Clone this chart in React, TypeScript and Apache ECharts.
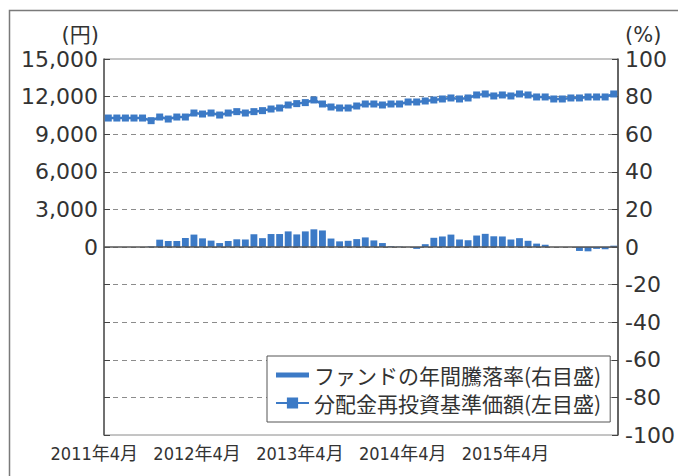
import React, { useEffect, useRef } from "react";
import * as echarts from "echarts";

const categories: string[] = [
  "2011年4月", "2011年5月", "2011年6月", "2011年7月", "2011年8月", "2011年9月",
  "2011年10月", "2011年11月", "2011年12月", "2012年1月", "2012年2月", "2012年3月",
  "2012年4月", "2012年5月", "2012年6月", "2012年7月", "2012年8月", "2012年9月",
  "2012年10月", "2012年11月", "2012年12月", "2013年1月", "2013年2月", "2013年3月",
  "2013年4月", "2013年5月", "2013年6月", "2013年7月", "2013年8月", "2013年9月",
  "2013年10月", "2013年11月", "2013年12月", "2014年1月", "2014年2月", "2014年3月",
  "2014年4月", "2014年5月", "2014年6月", "2014年7月", "2014年8月", "2014年9月",
  "2014年10月", "2014年11月", "2014年12月", "2015年1月", "2015年2月", "2015年3月",
  "2015年4月", "2015年5月", "2015年6月", "2015年7月", "2015年8月", "2015年9月",
  "2015年10月", "2015年11月", "2015年12月", "2016年1月", "2016年2月", "2016年3月",
];

// 分配金再投資基準価額 (円, left axis)
const navValues: number[] = [
  10290, 10290, 10290, 10290, 10290, 10080, 10370, 10210, 10370, 10370, 10690, 10610,
  10690, 10530, 10690, 10800, 10690, 10800, 10880, 11010, 11090, 11330, 11440, 11520,
  11730, 11410, 11170, 11090, 11090, 11250, 11410, 11410, 11330, 11410, 11410, 11570,
  11570, 11650, 11730, 11810, 11890, 11810, 11890, 12130, 12210, 12050, 12130, 12050,
  12210, 12130, 11970, 11970, 11810, 11810, 11890, 11890, 11970, 11970, 11970, 12210,
];

// ファンドの年間騰落率 (%, right axis)
const returnValues: (number | null)[] = [
  null, null, null, null, null, 0.3, 3.9, 3.2, 3.2, 4.8, 6.6, 4.6,
  3.4, 2.1, 3.2, 4.1, 4.0, 6.8, 4.7, 6.9, 6.9, 8.3, 6.7, 8.3,
  9.4, 8.8, 4.5, 3.0, 3.3, 4.2, 5.1, 3.5, 2.1, 0.4, 0.2, 0.05,
  -1.0, 1.5, 4.9, 5.6, 6.6, 4.0, 3.6, 6.1, 7.0, 5.7, 5.6, 4.0,
  4.7, 3.3, 1.8, 1.2, 0, 0, 0, -2.1, -2.3, -1.0, -1.2, 0.7,
];

const leftTicks = { min: -15000, max: 15000, interval: 3000 };
const rightTicks = { min: -100, max: 100, interval: 20 };

const barName = "ファンドの年間騰落率(右目盛)";
const lineName = "分配金再投資基準価額(左目盛)";
const leftUnit = "(円)";
const rightUnit = "(%)";

const BLUE = "#3c7ac6";
const TEXT = "#333333";
const NUM_FONT = "'DejaVu Sans', 'Noto Sans CJK JP', sans-serif";
const JP_FONT = "'Noto Sans CJK JP', sans-serif";
const NARROW_FONT =
  "'DejaVu Sans Condensed', 'Liberation Sans Narrow', 'Noto Sans CJK JP', sans-serif";

export default function App() {
  const ref = useRef<HTMLDivElement>(null);

  useEffect(() => {
    if (!ref.current) return;
    const chart = echarts.init(ref.current, undefined, { renderer: "svg" });
    const option: any = {
      animation: false,
      backgroundColor: "#ffffff",
      graphic: [
        {
          type: "rect",
          shape: { x: 9.5, y: 10.5, width: 720, height: 520 },
          style: { fill: "none", stroke: "#7a7a7a", lineWidth: 1.5 },
          silent: true,
          z: -10,
        },
      ],
      grid: {
        left: 104,
        top: 59,
        right: 60,
        bottom: 41,
        show: true,
        borderColor: "#8a8a8a",
        borderWidth: 1,
        containLabel: false,
        outerBoundsMode: "none",
      },
      legend: {
        orient: "vertical",
        left: 267,
        top: 356,
        backgroundColor: "#ffffff",
        borderColor: "#555555",
        borderWidth: 1,
        padding: [8, 9, 8, 8],
        itemGap: 6,
        itemWidth: 33,
        itemHeight: 14,
        textStyle: { fontSize: 21, lineHeight: 22, color: TEXT, fontFamily: JP_FONT },
        data: [
          { name: barName, icon: "path://M0,0H33V5H0Z" },
          { name: lineName },
        ],
      },
      xAxis: [
        {
          type: "category",
          data: categories,
          boundaryGap: true,
          axisLine: { show: false, onZero: false },
          axisTick: { show: false },
          splitLine: { show: false },
          axisLabel: {
            interval: (index: number) => index % 12 === 0,
            margin: 9,
            fontSize: 18,
            color: TEXT,
            fontFamily: NARROW_FONT,
            align: "center",
            padding: [0, 28, 0, 0],
          },
        },
      ],
      yAxis: [
        {
          type: "value",
          position: "left",
          min: leftTicks.min,
          max: leftTicks.max,
          interval: leftTicks.interval,
          name: leftUnit,
          nameLocation: "end",
          nameGap: 14,
          nameTextStyle: {
            fontSize: 21,
            color: TEXT,
            fontFamily: NUM_FONT,
            align: "right",
            padding: [0, 5, 0, 0],
          },
          axisLine: { show: true, onZero: false, lineStyle: { color: "#555555", width: 1.5 } },
          axisTick: { show: true, inside: true, length: 6, lineStyle: { color: "#444444" } },
          splitLine: { show: false },
          axisLabel: {
            margin: 6,
            fontSize: 22,
            color: TEXT,
            fontFamily: NUM_FONT,
            formatter: (v: number) => (v < 0 ? "" : v.toLocaleString("en-US")),
          },
        },
        {
          type: "value",
          position: "right",
          min: rightTicks.min,
          max: rightTicks.max,
          interval: rightTicks.interval,
          name: rightUnit,
          nameLocation: "end",
          nameGap: 14,
          nameTextStyle: {
            fontSize: 21,
            color: TEXT,
            fontFamily: NUM_FONT,
            align: "left",
            padding: [0, 0, 0, 7],
          },
          axisLine: { show: true, onZero: false, lineStyle: { color: "#444444", width: 1.5 } },
          axisTick: { show: true, inside: true, length: 6, lineStyle: { color: "#444444" } },
          splitLine: {
            show: true,
            showMinLine: false,
            showMaxLine: false,
            lineStyle: { color: "#8c8c8c", width: 1, type: [5, 4] },
          },
          axisLabel: {
            margin: 7,
            fontSize: 22,
            color: TEXT,
            fontFamily: NUM_FONT,
            formatter: (v: number) => String(v),
          },
        },
      ],
      series: [
        {
          name: barName,
          type: "bar",
          xAxisIndex: 0,
          yAxisIndex: 1,
          data: returnValues,
          barCategoryGap: "20%",
          itemStyle: { color: BLUE },
          markLine: {
            silent: true,
            symbol: ["none", "none"],
            label: { show: false },
            lineStyle: { color: "#555555", width: 1.5, type: "solid" },
            data: [{ yAxis: 0 }],
          },
        },
        {
          name: lineName,
          type: "line",
          xAxisIndex: 0,
          yAxisIndex: 0,
          data: navValues,
          symbol: "rect",
          symbolSize: 7,
          showSymbol: true,
          showAllSymbol: true,
          itemStyle: { color: BLUE },
          lineStyle: { color: BLUE, width: 2.5 },
          z: 3,
        },
      ],
    };
    chart.setOption(option);
    return () => chart.dispose();
  }, []);

  return (
    <div
      ref={ref}
      style={{ position: "fixed", left: 0, top: 0, width: 678, height: 476 }}
    />
  );
}
